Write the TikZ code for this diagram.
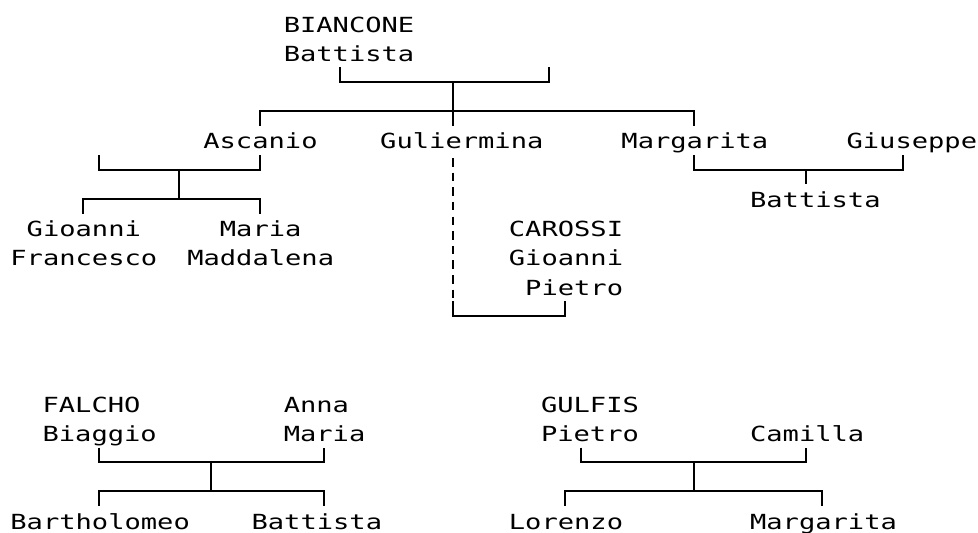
\documentclass[tikz,border=0pt]{standalone}
\usepackage{fontspec}
\newfontfamily\chartfont[FakeStretch=1.303]{DejaVu Sans Mono}
\newcommand\couple[5]{%
  \coordinate (#1-l) at ({#3+0.5},{#2-0.79});
  \coordinate (#1-j) at ({#4+0.5},{#2-0.29});
  \coordinate (#1-r) at ({#5+0.5},{#2-0.79});
  \draw[link] (#1-l) |- (#1-j) -| (#1-r);}
\newcommand\kids[5]{%
  \coordinate (#1-l) at ({#3+0.5},{#2+0.21});
  \coordinate (#1-j) at ({#4+0.5},{#2-0.29});
  \coordinate (#1-r) at ({#5+0.5},{#2+0.21});
  \draw[link] (#1-l) |- (#1-j) -| (#1-r);}
\begin{document}
\begin{tikzpicture}[x=16.08pt,y=-29.24pt,
  person/.style={anchor=base west, inner sep=0pt, outer sep=0pt, align=left,
    font=\chartfont\fontsize{20.8}{29.24}\selectfont},
  link/.style={line width=2pt, line join=miter},
  faint/.style={link, dash pattern=on 8.5pt off 6.12pt}]
\useasboundingbox (0pt,0pt) rectangle (978pt,-533pt);
\begin{scope}[shift={(10.4pt,-32pt)}]
% people (multi-line nodes are placed by the baseline of their last line)
\node[person] (biancone) at (17,1) {BIANCONE\\Battista};
\node[person] (ascanio) at (12,4) {Ascanio};
\node[person] (guliermina) at (23,4) {Guliermina};
\node[person] (margarita) at (38,4) {Margarita};
\node[person] (giuseppe) at (52,4) {Giuseppe};
\node[person] (battistaB) at (46,6) {Battista};
\node[person] (gioanni) at (0,8) {\hphantom{x}Gioanni\\Francesco};
\node[person] (maria) at (11,8) {\hphantom{xx}Maria\\Maddalena};
\node[person] (carossi) at (31,9) {CAROSSI\\Gioanni\\\hphantom{x}Pietro};
\node[person] (falcho) at (2,14) {FALCHO\\Biaggio};
\node[person] (anna) at (17,14) {Anna\\Maria};
\node[person] (bartholomeo) at (0,17) {Bartholomeo};
\node[person] (battistaF) at (15,17) {Battista};
\node[person] (gulfis) at (33,14) {GULFIS\\Pietro};
\node[person] (camilla) at (46,14) {Camilla};
\node[person] (lorenzo) at (31,17) {Lorenzo};
\node[person] (margaritaG) at (46,17) {Margarita};
% Biancone family
\couple{bb}{2}{20}{27}{33}
\kids{bbk}{3}{15}{27}{42}
\coordinate (gul-top) at (27.5,3.21);
\draw[link] (bb-j) -- (gul-top);
% Ascanio
\couple{asc}{5}{5}{10}{15}
\kids{asck}{6}{4}{10}{15}
\draw[link] (asc-j) -- (asck-j);
% Margarita and Giuseppe
\couple{mg}{5}{42}{49}{55}
\coordinate (batt-top) at (49.5,5.21);
\draw[link] (mg-j) -- (batt-top);
% Guliermina and Carossi
\coordinate (gul-bot) at (27.5,4.313);
\coordinate (gc-c) at (27.5,9.107);
\draw[faint] (gul-bot) -- (gc-c);
\couple{gc}{10}{27}{27}{34}
% Falcho family
\couple{fa}{15}{5}{12}{19}
\kids{fak}{16}{5}{12}{19}
\draw[link] (fa-j) -- (fak-j);
% Gulfis family
\couple{gu}{15}{35}{42}{49}
\kids{guk}{16}{34}{42}{50}
\draw[link] (gu-j) -- (guk-j);
\end{scope}
\end{tikzpicture}
\end{document}
